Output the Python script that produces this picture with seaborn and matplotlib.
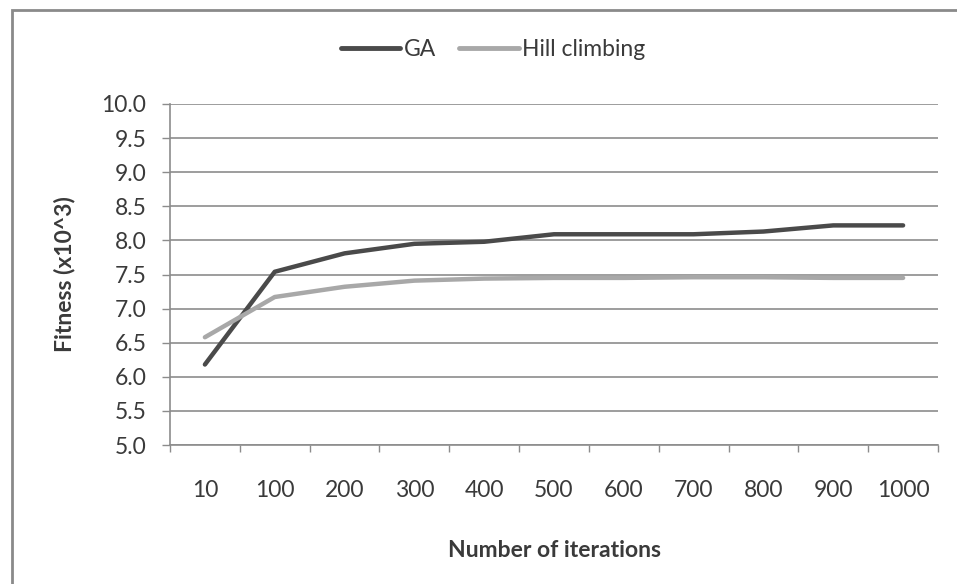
import matplotlib
matplotlib.use("Agg")
import matplotlib.pyplot as plt
import seaborn as sns
import pandas as pd
from matplotlib.patches import Rectangle
from matplotlib.lines import Line2D

iterations = ["10", "100", "200", "300", "400", "500", "600", "700", "800", "900", "1000"]
ga = [6.18, 7.54, 7.81, 7.95, 7.98, 8.09, 8.09, 8.09, 8.13, 8.22, 8.22]
hill = [6.58, 7.17, 7.32, 7.41, 7.44, 7.45, 7.45, 7.46, 7.46, 7.45, 7.45]
series_names = ["GA", "Hill climbing"]

df = pd.DataFrame({
    "Iterations": iterations * 2,
    "Fitness": ga + hill,
    "Series": [series_names[0]] * len(iterations) + [series_names[1]] * len(iterations),
})

sns.set_theme(style="white")
plt.rcParams["font.family"] = ["Lato", "DejaVu Sans"]

FS = 16.5
TXT = "#3a3a3a"
GRID = "#8c8c8c"

fig = plt.figure(figsize=(9.57, 5.84), dpi=100)
ax = fig.add_axes([170 / 957, 1 - 445 / 584, (938 - 170) / 957, (445 - 104) / 584])

sns.lineplot(data=df, x="Iterations", y="Fitness", hue="Series",
             palette={"GA": "#4a4a4a", "Hill climbing": "#a8a8a8"},
             linewidth=3.2, ax=ax, legend=False, sort=False)

ax.set_xlim(-0.5, len(iterations) - 0.5)
ax.set_ylim(5.0, 10.0)
yt = [5.0 + 0.5 * i for i in range(11)]
ax.set_yticks(yt)
ax.set_yticklabels([f"{v:.1f}" for v in yt], fontsize=FS, color=TXT)
ax.set_xticks(range(len(iterations)))
ax.set_xticklabels(iterations, fontsize=FS, color=TXT)

ax.tick_params(which="both", bottom=True, left=True)
ax.tick_params(axis="x", which="major", length=0, pad=25)
ax.tick_params(axis="y", which="major", length=6, width=1, color=GRID, direction="out", pad=11)
ax.set_xticks([i - 0.5 for i in range(len(iterations) + 1)], minor=True)
ax.tick_params(axis="x", which="minor", length=5, width=1, color=GRID, direction="out")

ax.yaxis.grid(True, color=GRID, linewidth=1.2)
ax.xaxis.grid(False)
for s in ["top", "right"]:
    ax.spines[s].set_visible(False)
for s in ["left", "bottom"]:
    ax.spines[s].set_color(GRID)
    ax.spines[s].set_linewidth(1.2)

ax.set_xlabel("Number of iterations", fontsize=FS, fontweight="bold", color=TXT, labelpad=28)
ax.set_ylabel("Fitness (x10^3)", fontsize=FS, fontweight="bold", color=TXT, labelpad=19)

handles = [Line2D([0], [0], color="#4a4a4a", lw=3.5), Line2D([0], [0], color="#a8a8a8", lw=3.5)]
fig.legend(handles, series_names, loc="center", bbox_to_anchor=(493 / 957, 1 - 50 / 584),
           ncol=2, frameon=False, fontsize=FS, handlelength=2.6, handletextpad=0.15,
           columnspacing=1.0, labelcolor=TXT)

fig.patches.append(Rectangle((12 / 957, -0.1), 1.2, 1 + 0.1 - 10 / 584, transform=fig.transFigure,
                             fill=False, edgecolor="#8a8a8a", linewidth=2))

fig.savefig("out.png", dpi=100)
